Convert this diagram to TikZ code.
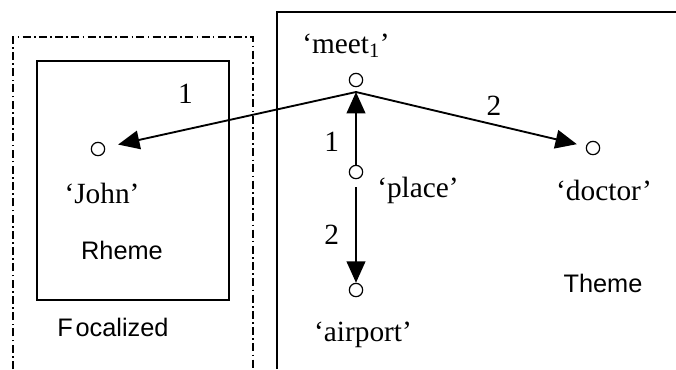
\documentclass[tikz,border=0pt]{standalone}
\usepackage{fontspec}
\setmainfont{Liberation Serif}
\setsansfont{Liberation Sans}
\usetikzlibrary{arrows.meta}
\usetikzlibrary{calc}

\begin{document}
\begin{tikzpicture}[x=0.75pt,y=-0.75pt,
	vert/.style={circle, draw, line width=0.9pt, minimum size=10pt, inner sep=0pt},
	word/.style={font=\fontsize{22}{26}\selectfont},
	area/.style={font=\sffamily\fontsize{19}{23}\selectfont},
	num/.style={font=\fontsize{22}{26}\selectfont, inner sep=1pt},
	rel/.style={-{Triangle[length=16pt,width=14pt]}, line width=1.4pt}]
	\useasboundingbox (0,0) rectangle (676,369);
	% boxes
	\draw[line width=1.1pt, dash pattern=on 6pt off 2.5pt on 1.2pt off 2.5pt]
	(13,369) -- (13,37) -- (253,37) -- (253,369);
	\draw[line width=1.4pt] (37,61) rectangle (229,300);
	\draw[line width=1.4pt] (277,369) -- (277,12) -- (676,12);
	% vertices
	\node[vert] (meet) at (356,80) {};
	\node[vert] (john) at (98,149) {};
	\node[vert] (place) at (356,172) {};
	\node[vert] (doctor) at (593,148) {};
	\node[vert] (airport) at (356,290) {};
	\coordinate (hub) at (356,92);
	% texts
	\node[word] (meetlbl) at (346,46) {‘meet\textsubscript{1}’};
	\node[word] (johnlbl) at (102,193) {‘John’};
	\node[word] (placelbl) at (418,190) {‘place’};
	\node[word] (doctorlbl) at (604,190) {‘doctor’};
	\node[word] (airportlbl) at (363,335) {‘airport’};
	\node[area] (rheme) at (122,250) {Rheme};
	\node[area] (focal) at (113,327) {F\kern2pt ocalized};
	\node[area] (theme) at (603,283) {Theme};
	% relations
	\path[rel]
	(hub) edge[shorten >=10pt] node [num, pos=0.68, above=18pt] {1} (john)
	edge[shorten >=7pt] node [num, pos=0.6, above=5pt] {2} (doctor)
	(place) edge node [num, pos=0.32, left=11pt] {1} (hub)
	edge[shorten <=6pt] node [num, pos=0.54, left=11pt] {2} (airport)
	;
\end{tikzpicture}
\end{document}
